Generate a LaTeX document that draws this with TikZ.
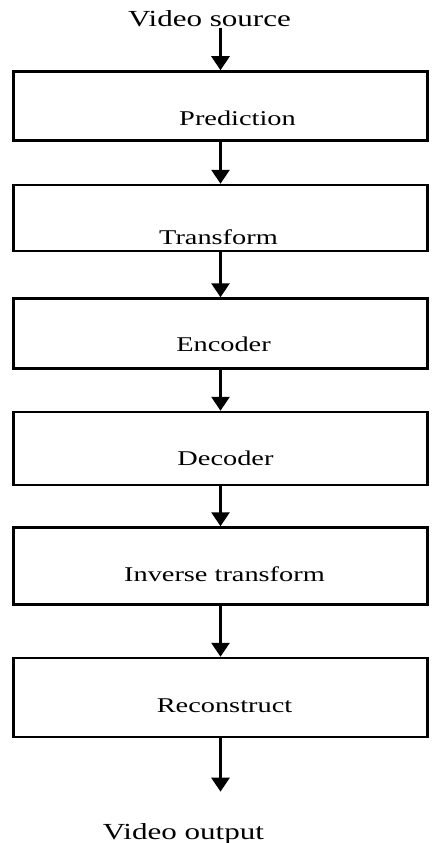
\documentclass[tikz,border=0pt]{standalone}
\usepackage{fontspec}
\setmainfont{Liberation Serif}
\newfontfamily\wideserif[FakeStretch=1.35]{Liberation Serif}
\usetikzlibrary{shapes,arrows.meta,positioning}

\begin{document}
\begin{tikzpicture}[x=1pt, y=1pt, node distance=42pt, thick]
\tikzstyle{stage} = [rectangle, draw, line width=2.5pt, minimum width=414pt, inner sep=0pt]
\tikzstyle{caption} = [font=\wideserif\fontsize{21}{23}\selectfont, inner sep=0pt]
\tikzstyle{ends} = [font=\wideserif\fontsize{23}{25}\selectfont, inner sep=0pt]
\tikzstyle{arrow} = [line width=3pt, -{Triangle[width=18pt,length=14pt]}]

\useasboundingbox (0,0) rectangle (433,-843);

\node [ends, anchor=base] (src) at (209.5,-27) {Video source};
\node [stage, minimum height=69pt, label={[caption, name=predtxt, xshift=17pt, yshift=-12pt]center:Prediction}] (pred) at (220.5,-106) {};
\node [stage, minimum height=66pt, below=42pt of pred, label={[caption, name=transtxt, xshift=-2pt, yshift=-19pt]center:Transform}] (trans) {};
\node [stage, minimum height=70pt, below=45pt of trans, label={[caption, name=enctxt, xshift=3pt, yshift=-10.5pt]center:Encoder}] (enc) {};
\node [stage, minimum height=73pt, below=41pt of enc, label={[caption, name=dectxt, xshift=5pt, yshift=-10pt]center:Decoder}] (dec) {};
\node [stage, minimum height=77pt, below=40pt of dec, label={[caption, name=invtxt, xshift=4pt, yshift=-8pt]center:Inverse transform}] (inv) {};
\node [stage, minimum height=79pt, below=51pt of inv, label={[caption, name=recontxt, xshift=4pt, yshift=-8pt]center:Reconstruct}] (recon) {};
\node [ends, anchor=base] (out) at (183.5,-839) {Video output};

\draw [arrow] (src.south -| pred.north) -- (pred.north);
\draw [arrow] (pred) -- (trans);
\draw [arrow] (trans) -- (enc);
\draw [arrow] (enc) -- (dec);
\draw [arrow] (dec) -- (inv);
\draw [arrow] (inv) -- (recon);
\draw [arrow, shorten >=31pt] (recon.south) -- (recon.south |- out.north);
\end{tikzpicture}
\end{document}
